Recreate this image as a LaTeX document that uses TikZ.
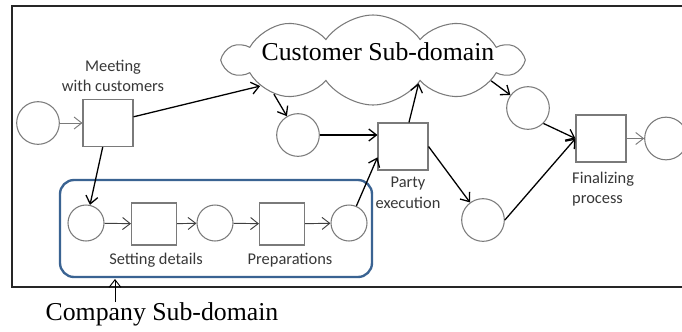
\documentclass[tikz,border=0pt]{standalone}
\usepackage{fontspec}
\usepackage{xcolor}
\setmainfont{Carlito}
\newfontfamily\timesfont{Liberation Serif}
\usetikzlibrary{shapes.symbols,arrows.meta}

\begin{document}
\begin{tikzpicture}[x=0.03cm,y=-0.03cm,>={Straight Barb[length=2.3mm,width=3.6mm]},
  place/.style={circle,draw=shapegray,line width=0.9pt,fill=white,minimum size=1.28cm,inner sep=0pt},
  smallplace/.style={place,minimum size=1.08cm},
  trans/.style={rectangle,draw=shapegray,line width=0.9pt,fill=white,minimum width=1.5cm,minimum height=1.41cm,inner sep=0pt},
  smalltrans/.style={trans,minimum width=1.35cm,minimum height=1.26cm},
  tlabel/.style={text=labelgray,font=\fontsize{14}{17.5}\selectfont,align=center,inner sep=0pt},
  bigtext/.style={font=\timesfont\fontsize{22}{26}\selectfont,inner sep=0pt},
  heavy/.style={->,draw=black,line width=1.1pt},
  light/.style={->,draw=black!75,line width=0.8pt}]
\definecolor{shapegray}{HTML}{7A7A7A}
\definecolor{labelgray}{HTML}{383838}
\definecolor{domainblue}{HTML}{3A6392}
\clip (0,0) rectangle (682,331);
\fill[white] (0,0) rectangle (682,331);
\draw[line width=1.5pt,black!85] (12,6) rectangle (720,287);

% customer side
\node[cloud,draw=shapegray,line width=0.9pt,cloud puffs=10,cloud puff arc=110,cloud ignores aspect,
  minimum width=8.9cm,minimum height=2.7cm] (cust) at (373,60) {};
\node[bigtext] (custname) at (378,52) {Customer Sub-domain};

\node[place] (start) at (38,123) {};
\node[trans] (meet) at (108,123) {};
\node[tlabel] (meetname) at (113,76) {Meeting\\with customers};
\node[place] (invited) at (298,135) {};
\node[trans] (party) at (403,146.5) {};
\node[tlabel] (partyname) at (408,193) {Party\\execution};
\node[place] (done) at (528,108) {};
\node[place] (billed) at (483,220) {};
\node[trans] (final) at (601,138.5) {};
\node[tlabel,align=left,anchor=west] (finalname) at (572,189) {Finalizing\\process};
\node[place] (end) at (666,138.5) {};

% company side
\draw[domainblue,line width=2pt,rounded corners=12] (60,180) rectangle (372,277);
\foreach \nm/\x in {agreed/86,detailed/215,prepared/349}
  {\node[smallplace] (\nm) at (\x,223) {};}
\foreach \nm/\x in {setting/154,prep/282}
  {\node[smalltrans] (\nm) at (\x,224) {};}
\foreach \a/\b in {agreed/setting,setting/detailed,detailed/prep,prep/prepared}
  {\draw[light] (\a) -- (\b);}
\node[tlabel] (settingname) at (156,260) {Setting details};
\node[tlabel] (prepname) at (290,260) {Preparations};
\node[bigtext] (compname) at (162,314) {Company Sub-domain};
\coordinate (hook) at (115,279);
\draw[->,line width=0.8pt] (compname.north -| hook) -- (hook);

% flow
\draw[light,draw=shapegray] (start) -- (meet);
\draw[heavy] (meet) -- (cust.193);
\draw[heavy] (meet) -- (agreed);
\draw[heavy] (cust.199) -- (invited);
\draw[heavy] (invited) -- (invited -| party.west);
\draw[heavy] (prepared) -- (party.203);
\draw[heavy] (party) -- (cust.333);
\draw[heavy] (party.east) -- (billed);
\draw[heavy] (cust.350) -- (done);
\draw[heavy] (done.south east) -- (final.west);
\draw[heavy] (billed.east) -- (final.west);
\draw[light,draw=shapegray] (final) -- (end);
\end{tikzpicture}
\end{document}
